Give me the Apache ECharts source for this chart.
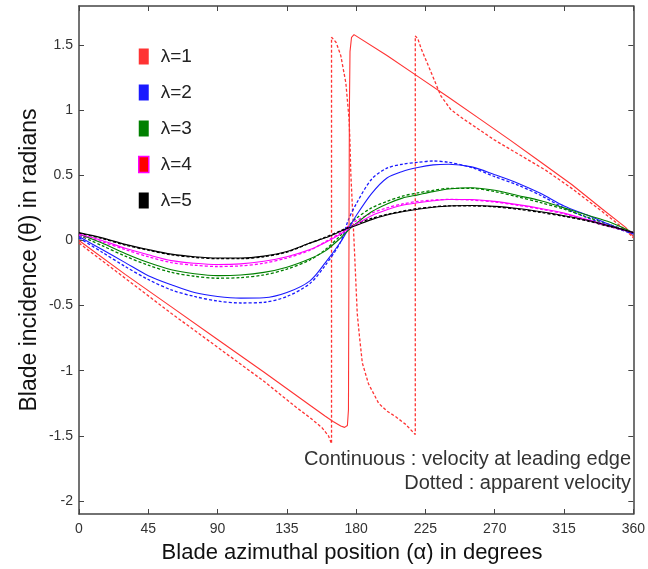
<!DOCTYPE html>
<html><head><meta charset="utf-8">
<script src="https://cdn.jsdelivr.net/npm/echarts/dist/echarts.min.js"></script>
<style>html,body{margin:0;padding:0;background:#fff}#c{width:648px;height:569px}</style>
</head><body><div id="c"></div><script>
// ---- data ----
const xTicks = [0, 45, 90, 135, 180, 225, 270, 315, 360];
const yTicks = [-2, -1.5, -1, -0.5, 0, 0.5, 1, 1.5];
const names = ['λ=1', 'λ=2', 'λ=3', 'λ=4', 'λ=5'];
const colors = ['#ff3333', '#1a1aff', '#008000', '#ff00ff', '#000000'];

// lambda = 1 (solid: velocity at leading edge)
const red1X = [0, 30, 60, 90, 120, 150, 160, 165, 170, 172.5, 174.3, 175.0, 175.6, 176.0, 177.0, 178.6, 200, 220, 240, 260, 280, 300, 320, 340, 355, 360];
const red1Y = [0.0, -0.26, -0.51, -0.76, -1.01, -1.265, -1.35, -1.39, -1.425, -1.435, -1.42, -1.30, 1.0, 1.45, 1.56, 1.58, 1.42, 1.26, 1.10, 0.935, 0.77, 0.60, 0.43, 0.24, 0.10, 0.03];
// lambda = 1 (dotted: apparent velocity)
const red1dX = [0, 30, 60, 90, 120, 141, 150, 158, 162, 164, 164, 165, 167, 170, 173.3, 175.4, 176.0, 176.5, 178.6, 180.7, 182, 184, 188, 194.6, 200, 205.3, 212, 216, 218.4, 218.4, 220, 222.3, 228.7, 235, 241.5, 250, 270, 303, 320, 340, 355, 360];
const red1dY = [-0.02, -0.29, -0.56, -0.82, -1.08, -1.28, -1.36, -1.44, -1.50, -1.56, 1.56, 1.56, 1.52, 1.42, 1.21, 0.93, 0.75, 0.52, 0.0, -0.56, -0.72, -0.94, -1.10, -1.25, -1.31, -1.35, -1.41, -1.46, -1.49, 1.57, 1.55, 1.47, 1.29, 1.11, 1.005, 0.93, 0.77, 0.54, 0.40, 0.22, 0.08, 0.02];

// common azimuth grid for lambda = 2..5
const alpha = [0, 15, 30, 45, 60, 75, 90, 105, 120, 135, 150, 160, 170, 175, 180, 190, 200, 210, 220, 230, 240, 255, 270, 285, 300, 315, 330, 345, 360];
const lam2  = [0.03, -0.07, -0.17, -0.27, -0.34, -0.40, -0.43, -0.443, -0.44, -0.40, -0.31, -0.17, -0.01, 0.09, 0.19, 0.36, 0.48, 0.53, 0.56, 0.58, 0.585, 0.565, 0.505, 0.44, 0.36, 0.265, 0.195, 0.12, 0.05];
const lam2d = [0.02, -0.09, -0.20, -0.30, -0.38, -0.43, -0.465, -0.48, -0.475, -0.43, -0.33, -0.19, -0.01, 0.16, 0.28, 0.47, 0.555, 0.585, 0.60, 0.61, 0.60, 0.56, 0.49, 0.425, 0.345, 0.25, 0.175, 0.11, 0.05];
const lam3  = [0.05, -0.02, -0.10, -0.17, -0.225, -0.255, -0.27, -0.265, -0.245, -0.205, -0.14, -0.08, 0.02, 0.08, 0.13, 0.22, 0.28, 0.325, 0.35, 0.375, 0.395, 0.405, 0.385, 0.345, 0.305, 0.25, 0.195, 0.14, 0.06];
const lam3d = [0.04, -0.04, -0.12, -0.19, -0.245, -0.275, -0.29, -0.285, -0.265, -0.22, -0.15, -0.07, 0.04, 0.11, 0.17, 0.25, 0.30, 0.34, 0.365, 0.385, 0.40, 0.40, 0.375, 0.335, 0.29, 0.24, 0.18, 0.12, 0.06];
const lam4  = [0.05, 0.0, -0.06, -0.11, -0.155, -0.175, -0.185, -0.18, -0.16, -0.125, -0.07, -0.015, 0.05, 0.09, 0.125, 0.19, 0.235, 0.27, 0.29, 0.305, 0.315, 0.315, 0.30, 0.275, 0.245, 0.21, 0.16, 0.11, 0.06];
const lam4d = [0.04, -0.01, -0.07, -0.125, -0.17, -0.19, -0.2, -0.195, -0.175, -0.135, -0.075, -0.01, 0.06, 0.11, 0.15, 0.21, 0.25, 0.28, 0.30, 0.31, 0.315, 0.31, 0.295, 0.27, 0.24, 0.205, 0.155, 0.105, 0.06];
const lam5  = [0.06, 0.02, -0.03, -0.07, -0.105, -0.125, -0.135, -0.135, -0.12, -0.085, -0.02, 0.02, 0.07, 0.095, 0.115, 0.16, 0.195, 0.22, 0.24, 0.255, 0.265, 0.268, 0.262, 0.245, 0.22, 0.19, 0.155, 0.11, 0.06];
const lam5d = [0.055, 0.015, -0.035, -0.075, -0.11, -0.13, -0.14, -0.14, -0.125, -0.09, -0.02, 0.025, 0.075, 0.10, 0.125, 0.17, 0.20, 0.225, 0.245, 0.258, 0.265, 0.265, 0.258, 0.24, 0.215, 0.185, 0.15, 0.105, 0.06];

const xTitle = 'Blade azimuthal position (α) in degrees';
const yTitle = 'Blade incidence (θ) in radians';
const note1 = 'Continuous : velocity at leading edge';
const note2 = 'Dotted : apparent velocity';

// ---- build ----
const pairs = (xs, ys) => xs.map((x, i) => [x, ys[i]]);
const FONT = 'Liberation Sans, Arial, sans-serif';
function mk(i, xs, ys, dotted, smooth) {
  return {
    name: names[i], type: 'line', xAxisIndex: 0, yAxisIndex: 0,
    data: pairs(xs, ys), symbol: 'none', smooth: smooth ? 0.3 : false,
    itemStyle: { color: colors[i] },
    lineStyle: { color: colors[i], width: dotted ? 1.3 : 1.1, type: dotted ? [3, 2] : 'solid' },
    z: dotted ? 3 : 4
  };
}
const series = [
  mk(0, red1X, red1Y, false, false), mk(0, red1dX, red1dY, true, false),
  mk(1, alpha, lam2, false, true), mk(1, alpha, lam2d, true, true),
  mk(2, alpha, lam3, false, true), mk(2, alpha, lam3d, true, true),
  mk(3, alpha, lam4, false, true), mk(3, alpha, lam4d, true, true),
  mk(4, alpha, lam5, false, true), mk(4, alpha, lam5d, true, true)
];

const axisLine = { show: true, onZero: false, lineStyle: { color: '#444', width: 1.5 } };
const chart = echarts.init(document.getElementById('c'), null, { renderer: 'canvas' });
chart.setOption({
  animation: false,
  backgroundColor: '#fff',
  grid: { left: 79, right: 6, top: 6, bottom: 55 },
  legend: {
    orient: 'vertical', left: 133, top: 42, icon: 'rect',
    itemWidth: 10, itemHeight: 16, itemGap: 17,
    textStyle: { fontSize: 19, color: '#222', fontFamily: FONT, padding: [0, 0, 0, 7] },
    data: names.map((n, i) => i === 3
      ? { name: n, itemStyle: { color: '#ff0000', borderColor: '#ff00ff', borderWidth: 1.5 } }
      : { name: n, itemStyle: { color: colors[i], borderWidth: 0 } })
  },
  xAxis: [
    { type: 'value', min: 0, max: 360, interval: 45, position: 'bottom',
      axisLine, splitLine: { show: false },
      axisTick: { show: true, inside: true, length: 5, lineStyle: { color: '#444' } },
      axisLabel: { fontSize: 14, color: '#333', fontFamily: FONT, margin: 8, showMinLabel: true, showMaxLabel: true } },
    { type: 'value', min: 0, max: 360, interval: 45, position: 'top',
      axisLine, splitLine: { show: false },
      axisTick: { show: true, inside: true, length: 5, lineStyle: { color: '#444' } },
      axisLabel: { show: false } }
  ],
  yAxis: [
    { type: 'value', min: -2.1, max: 1.8, position: 'left',
      axisLine, splitLine: { show: false },
      axisTick: { show: true, inside: true, length: 5, customValues: yTicks, lineStyle: { color: '#444' } },
      axisLabel: { fontSize: 14, color: '#333', fontFamily: FONT, margin: 6, customValues: yTicks } },
    { type: 'value', min: -2.1, max: 1.8, position: 'right',
      axisLine, splitLine: { show: false },
      axisTick: { show: true, inside: true, length: 5, customValues: yTicks, lineStyle: { color: '#444' } },
      axisLabel: { show: false } }
  ],
  graphic: [
    { type: 'text', x: 352, y: 553, style: { text: xTitle, font: '22px ' + FONT, fill: '#111', align: 'center', verticalAlign: 'middle' } },
    { type: 'text', x: 30, y: 260, rotation: Math.PI / 2, style: { text: yTitle, font: '23px ' + FONT, fill: '#111', align: 'center', verticalAlign: 'middle' } },
    { type: 'text', x: 631, y: 459, style: { text: note1, font: '20px ' + FONT, fill: '#333', align: 'right', verticalAlign: 'middle' } },
    { type: 'text', x: 631, y: 483, style: { text: note2, font: '20px ' + FONT, fill: '#333', align: 'right', verticalAlign: 'middle' } }
  ],
  series
});
</script></body></html>
